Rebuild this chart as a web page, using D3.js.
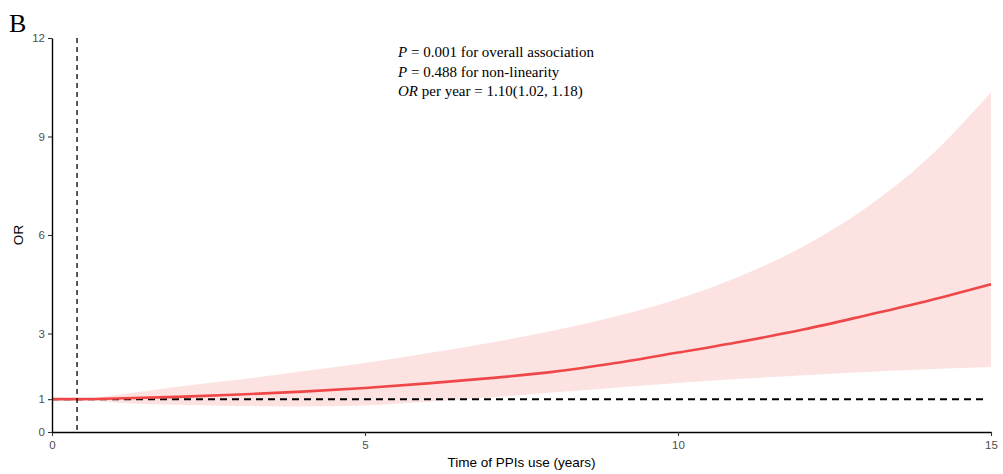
<!DOCTYPE html>
<html lang="en">
<head>
<meta charset="UTF-8" />
<script src="https://d3js.org/d3.v7.min.js"></script>
<style>
  body { margin: 0; background: #fff; }
  svg { display: block; }
</style>
</head>
<body>
<svg width="1003" height="474"></svg>
<script>
// data
var years = [0, 0.4, 1, 2, 3, 4, 5, 6, 7, 8, 9, 10, 11, 12, 13, 14, 15];
var orFit = [1.00, 1.00, 1.02, 1.07, 1.14, 1.23, 1.34, 1.48, 1.64, 1.83, 2.10, 2.42, 2.75, 3.12, 3.55, 4.00, 4.50];
var orUpper = [1.00, 1.00, 1.13, 1.38, 1.60, 1.85, 2.10, 2.40, 2.72, 3.08, 3.52, 4.05, 4.75, 5.65, 6.82, 8.35, 10.35];
var orLower = [1.00, 1.00, 0.90, 0.83, 0.79, 0.78, 0.81, 0.92, 1.05, 1.20, 1.35, 1.49, 1.62, 1.73, 1.83, 1.91, 1.98];
var xTicks = [0, 5, 10, 15];
var yTicks = [0, 1, 3, 6, 9, 12];
var refYear = 0.4;
var notes = [
  ["P", " = 0.001 for overall association"],
  ["P", " = 0.488 for non-linearity"],
  ["OR", " per year = 1.10(1.02, 1.18)"]
];

var svg = d3.select("svg");
var x = d3.scaleLinear().domain([0, 15]).range([52, 991]);
var y = d3.scaleLinear().domain([0, 12]).range([432, 38]);

var pts = years.map(function(t, i) {
  return { t: t, fit: orFit[i], lo: orLower[i], hi: orUpper[i] };
});

// confidence band
var area = d3.area()
  .x(function(d) { return x(d.t); })
  .y0(function(d) { return y(d.lo); })
  .y1(function(d) { return y(d.hi); })
  .curve(d3.curveMonotoneX);
svg.append("path").datum(pts)
  .attr("d", area)
  .attr("fill", "#fde2e2");

// reference lines
svg.append("line")
  .attr("x1", x(0)).attr("x2", x(15) - 3)
  .attr("y1", y(1)).attr("y2", y(1))
  .attr("stroke", "#000").attr("stroke-width", 2)
  .attr("stroke-dasharray", "7,5");

// fitted curve
var line = d3.line()
  .x(function(d) { return x(d.t); })
  .y(function(d) { return y(d.fit); })
  .curve(d3.curveMonotoneX);
svg.append("path").datum(pts)
  .attr("d", line)
  .attr("fill", "none")
  .attr("stroke", "#ef4747")
  .attr("stroke-width", 2.6);

svg.append("line")
  .attr("x1", x(refYear)).attr("x2", x(refYear))
  .attr("y1", y(12)).attr("y2", y(0))
  .attr("stroke", "#000").attr("stroke-width", 1.3)
  .attr("stroke-dasharray", "5,4");

// axes
var xAxis = d3.axisBottom(x).tickValues(xTicks).tickSize(4).tickSizeOuter(0);
var yAxis = d3.axisLeft(y).tickValues(yTicks).tickSize(4).tickSizeOuter(0);

var gx = svg.append("g").attr("transform", "translate(0," + y(0) + ")").call(xAxis);
var gy = svg.append("g").attr("transform", "translate(" + x(0) + ",0)").call(yAxis);

[gx, gy].forEach(function(g) {
  g.select(".domain").attr("stroke", "#000").attr("stroke-width", 1.4);
  g.selectAll(".tick line").attr("stroke", "#333").attr("stroke-width", 1.1);
  g.selectAll(".tick text")
    .attr("fill", "#4d4d4d")
    .style("font-family", "'Liberation Sans', Arial, sans-serif")
    .style("font-size", "11.5px");
});
gx.selectAll(".tick text").attr("dy", "0.9em");

svg.append("text")
  .attr("x", (x(0) + x(15)) / 2).attr("y", 467)
  .attr("text-anchor", "middle")
  .style("font-family", "'Liberation Sans', Arial, sans-serif")
  .style("font-size", "13.5px")
  .text("Time of PPIs use (years)");

svg.append("text")
  .attr("transform", "translate(23," + y(6) + ") rotate(-90)")
  .attr("text-anchor", "middle")
  .style("font-family", "'Liberation Sans', Arial, sans-serif")
  .style("font-size", "13.5px")
  .text("OR");

// panel letter
svg.append("text")
  .attr("x", 9).attr("y", 32)
  .style("font-family", "'Liberation Serif', 'Times New Roman', serif")
  .style("font-size", "26px")
  .text("B");

// annotation
var note = svg.append("g");
notes.forEach(function(n, i) {
  var t = note.append("text")
    .attr("x", 398).attr("y", 57 + i * 19.5)
    .style("font-family", "'Liberation Serif', 'Times New Roman', serif")
    .style("font-size", "15px");
  t.append("tspan").style("font-style", "italic").text(n[0]);
  t.append("tspan").text(n[1]);
});
</script>
</body>
</html>
